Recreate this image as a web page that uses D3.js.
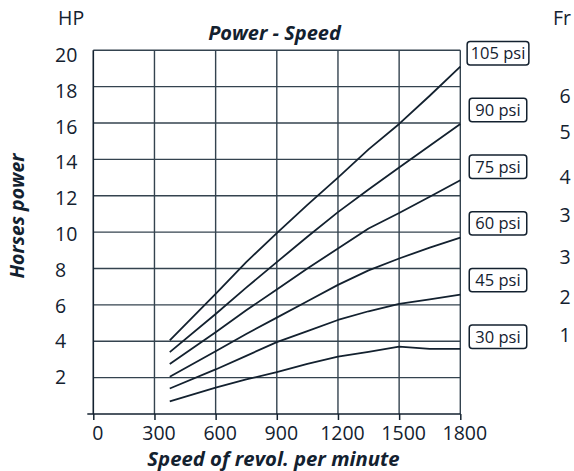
<!DOCTYPE html>
<html>
<head>
<meta charset="utf-8">
<script src="https://cdn.jsdelivr.net/npm/d3@7"></script>
<style>
  body { margin: 0; background: #fff; }
  text { font-family: "Open Sans", sans-serif; fill: #13212f; }
</style>
</head>
<body>
<svg width="574" height="471"></svg>
<script>
// speeds (rpm)
const speeds = [375, 600, 750, 900, 1050, 1200, 1350, 1500, 1650, 1800];

// horse power for each pressure
const hp30  = [0.7, 1.45, 1.9, 2.3, 2.75, 3.15, 3.42, 3.7, 3.58, 3.58];
const hp45  = [1.4, 2.45, 3.2, 3.95, 4.56, 5.17, 5.65, 6.05, 6.3, 6.56];
const hp60  = [2.05, 3.45, 4.4, 5.3, 6.2, 7.1, 7.9, 8.55, 9.15, 9.7];
const hp75  = [2.75, 4.5, 5.7, 6.85, 8.0, 9.1, 10.2, 11.05, 11.95, 12.85];
const hp90  = [3.4, 5.5, 6.95, 8.35, 9.75, 11.1, 12.35, 13.55, 14.75, 15.95];
const hp105 = [4.05, 6.6, 8.35, 9.95, 11.5, 13.0, 14.55, 15.95, 17.5, 19.1];

const psiLabels = ["105 psi", "90 psi", "75 psi", "60 psi", "45 psi", "30 psi"];
const xTicks = [0, 300, 600, 900, 1200, 1500, 1800];
const yTicks = [2, 4, 6, 8, 10, 12, 14, 16, 18, 20];
// right hand "Fr" column
const frLabels = ["6", "5", "4", "3", "3", "2", "1"];
const frAtHP   = [17.5, 15.5, 13.05, 10.95, 8.65, 6.45, 4.35];

const series = [hp105, hp90, hp75, hp60, hp45, hp30];

const svg = d3.select('svg');
const ink = '#13212f';

const x = d3.scaleLinear().domain([0, 1800]).range([93.3, 460.3]);
const y = d3.scaleLinear().domain([0, 20]).range([414, 50.3]);
// tick labels sit on a slightly tighter spacing than the grid
const yLab = d3.scaleLinear().domain([0, 20]).range([413, 55]);

// grid
svg.append('g').selectAll('line').data(yTicks).join('line')
   .attr('x1', x(0)).attr('x2', x(1800))
   .attr('y1', d => y(d)).attr('y2', d => y(d))
   .attr('stroke', '#34434f').attr('stroke-width', 1.4);
svg.append('g').selectAll('line').data(xTicks.slice(1)).join('line')
   .attr('x1', d => x(d)).attr('x2', d => x(d))
   .attr('y1', y(0)).attr('y2', y(20))
   .attr('stroke', '#34434f').attr('stroke-width', 1.4);

// left axis line and bottom axis (with a stub at 0 on the left)
svg.append('line').attr('x1', x(0)).attr('x2', x(0)).attr('y1', y(0)).attr('y2', y(20))
   .attr('stroke', ink).attr('stroke-width', 1.6);
svg.append('line').attr('x1', x(0) - 6).attr('x2', x(1800)).attr('y1', y(0)).attr('y2', y(0))
   .attr('stroke', ink).attr('stroke-width', 1.6);

const xAxis = svg.append('g').attr('transform', `translate(0,${y(0)})`)
   .call(d3.axisBottom(x).tickValues(xTicks).tickFormat(d3.format('d')).tickSize(6).tickPadding(6));
xAxis.select('.domain').remove();
xAxis.selectAll('line').attr('stroke', ink).attr('stroke-width', 1.5);
xAxis.selectAll('text').attr('font-size', 19.5).attr('fill', ink)
     .attr('font-family', '"Open Sans", sans-serif').attr('dx', 4);

// y tick labels
svg.append('g').selectAll('text').data(yTicks).join('text')
   .attr('x', 55).attr('y', d => yLab(d)).attr('dy', '0.36em')
   .attr('font-size', 19.5).text(d => d);

// curves
const line = d3.line().x((d, i) => x(speeds[i])).y(d => y(d));
svg.append('g').selectAll('path').data(series).join('path')
   .attr('d', line).attr('fill', 'none')
   .attr('stroke', ink).attr('stroke-width', 1.8).attr('stroke-linejoin', 'round');

// psi boxes
const psi = svg.append('g').selectAll('g').data(psiLabels).join('g')
   .attr('transform', (d, i) => `translate(498,${53.3 + i * 56.7})`);
psi.append('text').attr('text-anchor', 'middle').attr('dy', '0.36em')
   .attr('font-size', 16.5).text(d => d);
psi.each(function () {
  const g = d3.select(this);
  const bb = g.select('text').node().getBBox();
  const w = Math.max(57.5, bb.width + 7);
  g.insert('rect', 'text')
   .attr('x', -w / 2).attr('y', -11.7).attr('width', w).attr('height', 23.4)
   .attr('rx', 3).attr('fill', '#fff').attr('stroke', ink).attr('stroke-width', 1.5);
});

// Fr column
svg.append('g').selectAll('text').data(frLabels).join('text')
   .attr('x', 565).attr('y', (d, i) => y(frAtHP[i])).attr('dy', '0.36em')
   .attr('text-anchor', 'middle').attr('font-size', 19.5).text(d => d);

// titles
svg.append('text').attr('x', 58).attr('y', 25).attr('font-size', 19.5).text('HP');
svg.append('text').attr('x', 553).attr('y', 25).attr('font-size', 19.5).text('Fr');
svg.append('text').attr('x', 274.5).attr('y', 40).attr('text-anchor', 'middle')
   .attr('font-size', 20).attr('font-weight', 'bold').attr('font-style', 'italic')
   .text('Power - Speed');
svg.append('text').attr('x', 273.5).attr('y', 466).attr('text-anchor', 'middle')
   .attr('font-size', 20.3).attr('font-weight', 'bold').attr('font-style', 'italic')
   .text('Speed of revol. per minute');
svg.append('text').attr('transform', 'translate(24,216) rotate(-90)').attr('text-anchor', 'middle')
   .attr('font-size', 19.5).attr('font-weight', 'bold').attr('font-style', 'italic')
   .text('Horses power');
</script>
</body>
</html>
